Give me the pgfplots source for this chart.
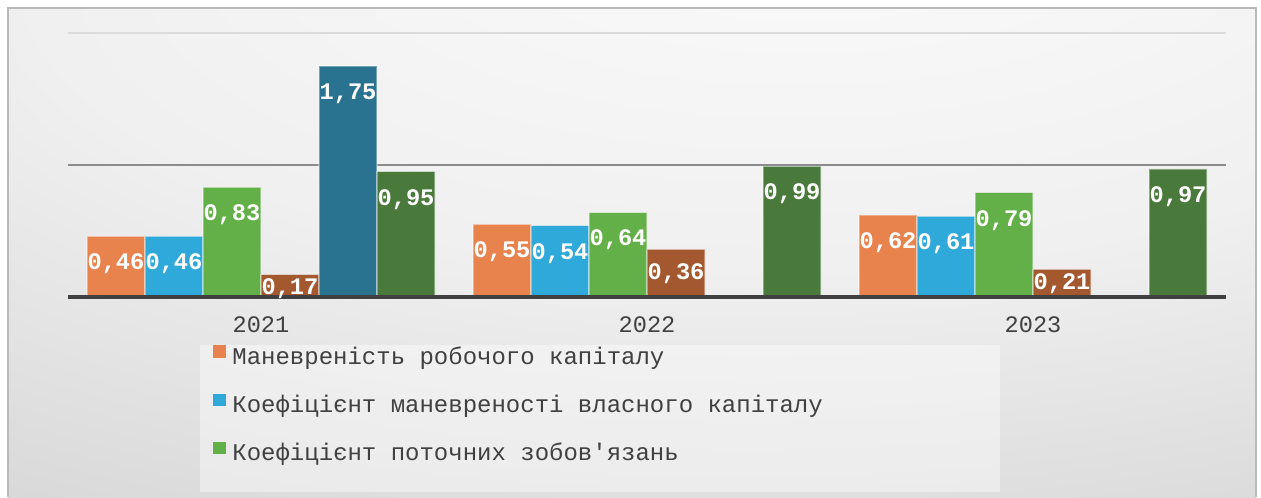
\documentclass[border=0pt]{standalone}
\usepackage{pgfplots}
\pgfplotsset{compat=1.18}
\usepackage{pgfplotstable}
\usepackage{fontspec}
\setmainfont{Liberation Sans}
\newfontfamily\mono{Liberation Mono}
\definecolor{cOr}{HTML}{E8834E}
\definecolor{cBl}{HTML}{2FA9DA}
\definecolor{cGr}{HTML}{64B048}
\definecolor{cBr}{HTML}{A4582F}
\definecolor{cTe}{HTML}{2A7390}
\definecolor{cDg}{HTML}{4A7A3B}
\definecolor{txt}{HTML}{404040}
\pgfdeclareradialshading{bgshade}{\pgfpoint{8bp}{40bp}}{%
  color(0bp)=(white!99!black); color(30bp)=(white!94!black);
  color(60bp)=(white!82!black); color(100bp)=(white!72!black)}

\pgfplotstableread{
x y lab dy
0 0.46 0,46 -8.5
1 0.55 0,55 -8.5
2 0.62 0,62 -8.5
}\tOr
\pgfplotstableread{
x y lab dy
0 0.46 0,46 -8.5
1 0.54 0,54 -8.5
2 0.61 0,61 -8.5
}\tBl
\pgfplotstableread{
x y lab dy
0 0.83 0,83 -8.5
1 0.64 0,64 -8.5
2 0.79 0,79 -8.5
}\tGr
\pgfplotstableread{
x y lab dy
0 0.17 0,17 -1.5
1 0.36 0,36 -7
2 0.21 0,21 -2
}\tBr
\pgfplotstableread{
x y lab dy
0 1.75 1,75 -8.5
}\tTe
\pgfplotstableread{
x y lab dy
0 0.95 0,95 -8.5
1 0.99 0,99 -8.5
2 0.97 0,97 -8.5
}\tDg

\pgfplotsset{
  myleg/.style={legend image code/.code={\fill[##1,draw=none] (0pt,0pt) rectangle (6.5pt,6.3pt);}},
}

\begin{document}
\begin{tikzpicture}
\fill[white] (0,0) rectangle (630.5pt,-248.5pt);
\shade[shading=bgshade] (4pt,-4pt) rectangle (628pt,-248.5pt);
\draw[gray!55, line width=0.6pt] (4pt,-248.5pt) -- (4pt,-4pt) -- (628pt,-4pt) -- (628pt,-248.5pt);
\fill[white, opacity=0.4] (100pt,-172.5pt) rectangle (500pt,-246pt);
\begin{axis}[
  at={(34pt,-148.5pt)}, anchor=south west,
  scale only axis, width=579pt, height=132pt,
  xmin=-0.5, xmax=2.5, ymin=0, ymax=2,
  clip=false,
  axis line style={draw=none},
  tick style={draw=none},
  ybar=0pt, bar width=29pt,
  ytick={1}, yticklabels={},
  ymajorgrids,
  major grid style={color=gray!90, line width=0.7pt},
  extra y ticks={2}, extra y tick labels={},
  extra y tick style={major grid style={color=gray!28, line width=0.7pt}},
  xtick={0,1,2}, xticklabels={2021,2022,2023},
  xticklabel style={font=\mono\fontsize{11.8}{14}\selectfont, text=txt, inner sep=0pt, yshift=-5.5pt},
  nodes near coords,
  point meta=explicit symbolic,
  visualization depends on={\thisrow{dy} \as \dy},
  nodes near coords style={font=\mono\bfseries\fontsize{11.85}{14}\selectfont, text=white, anchor=north, inner sep=0pt, yshift=\dy pt},
  legend style={at={(0.1252,-0.182)}, anchor=north west, draw=none, fill=none,
    font=\mono\fontsize{12}{14}\selectfont, text=txt,
    inner sep=0pt, row sep=12.25pt, column sep=3pt,
    nodes={inner sep=0pt, text height=8.5pt, text depth=2.5pt}},
  legend cell align=left,
]
\addplot[fill=cOr, draw=white, draw opacity=0.35, line width=0.6pt, myleg] table[x=x,y=y,meta=lab]{\tOr};
\addlegendentry{Маневреність робочого капіталу}
\addplot[fill=cBl, draw=white, draw opacity=0.35, line width=0.6pt, myleg] table[x=x,y=y,meta=lab]{\tBl};
\addlegendentry{Коефіцієнт маневреності власного капіталу}
\addplot[fill=cGr, draw=white, draw opacity=0.35, line width=0.6pt, myleg] table[x=x,y=y,meta=lab]{\tGr};
\addlegendentry{Коефіцієнт поточних зобов'язань}
\addplot[fill=cBr, draw=white, draw opacity=0.35, line width=0.6pt] table[x=x,y=y,meta=lab]{\tBr};
\addplot[fill=cTe, draw=white, draw opacity=0.35, line width=0.6pt] table[x=x,y=y,meta=lab]{\tTe};
\addplot[fill=cDg, draw=white, draw opacity=0.35, line width=0.6pt] table[x=x,y=y,meta=lab]{\tDg};
\draw[txt, line width=2pt] (axis cs:-0.5,0) -- (axis cs:2.5,0);
\end{axis}
\end{tikzpicture}
\end{document}
